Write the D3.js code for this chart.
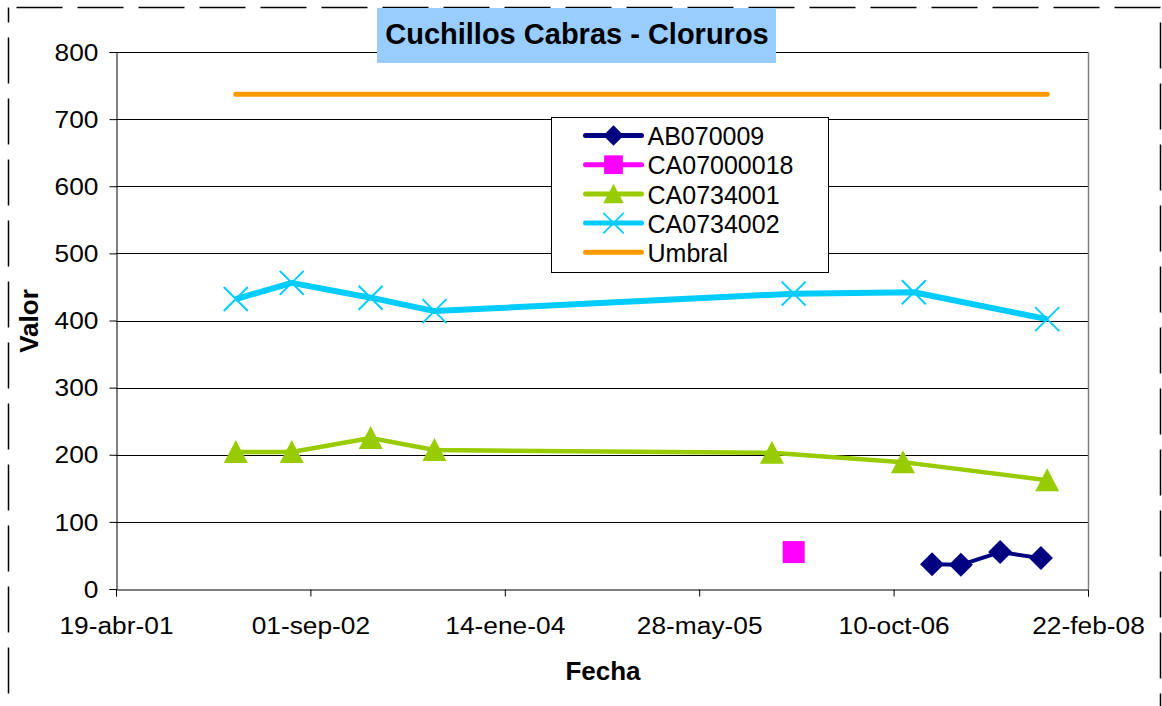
<!DOCTYPE html>
<html>
<head>
<meta charset="utf-8">
<script src="https://cdn.jsdelivr.net/npm/d3@7"></script>
<style>
  body { margin: 0; background: #fff; }
  text { font-family: "Liberation Sans", Arial, sans-serif; }
</style>
</head>
<body>
<div id="chart"></div>
<script>
// series data (dates)
const ab070009Dates = ["2007-01-17", "2007-04-01", "2007-07-11", "2007-10-24"];
const ab070009Values = [37, 36, 55, 46];

const ca07000018Dates = ["2006-01-26"];
const ca07000018Values = [55];

const ca0734001Dates = ["2002-02-21", "2002-07-15", "2003-02-03", "2003-07-17", "2005-12-01", "2006-11-03", "2007-11-09"];
const ca0734001Values = [204, 204, 225, 207, 203, 189, 162];

const ca0734002Dates = ["2002-02-21", "2002-07-15", "2003-02-03", "2003-07-17", "2006-01-26", "2006-12-01", "2007-11-09"];
const ca0734002Values = [432, 456, 434, 414, 440, 442, 402];

const umbralDates = ["2002-02-21", "2007-11-09"];
const umbralValues = [737, 737];

const yTicks = [0, 100, 200, 300, 400, 500, 600, 700, 800];
const xTickLabels = ["19-abr-01", "01-sep-02", "14-ene-04", "28-may-05", "10-oct-06", "22-feb-08"];

const parse = d3.utcParse("%Y-%m-%d");
const xStart = parse("2001-04-19");
const xEnd = parse("2008-02-22");
const xTicks = d3.range(6).map(i => d3.utcDay.offset(xStart, i * 500));

const W = 1162, H = 706;
const plot = { left: 116, right: 1088, top: 52, bottom: 589 };
const stretch = 1.12; // tick labels in the original are a bit wide

const svg = d3.select("#chart").append("svg")
    .attr("width", W)
    .attr("height", H);

// dashed outer frame
svg.append("rect")
    .attr("x", 8.5).attr("y", 7.5)
    .attr("width", 1152).attr("height", 720)
    .attr("fill", "none")
    .attr("stroke", "#000")
    .attr("stroke-width", 1.5)
    .attr("stroke-dasharray", "46,15")
    .attr("stroke-dashoffset", -8);

const x = d3.scaleUtc().domain([xStart, xEnd]).range([plot.left, plot.right]);
const y = d3.scaleLinear().domain([0, 800]).range([plot.bottom, plot.top]);

// gridlines
svg.append("g")
    .selectAll("line")
    .data(yTicks.filter(d => d > 0))
    .join("line")
    .attr("x1", plot.left).attr("x2", plot.right)
    .attr("y1", d => Math.round(y(d)) + 0.5)
    .attr("y2", d => Math.round(y(d)) + 0.5)
    .attr("stroke", "#000")
    .attr("stroke-width", 1);

// right border of plot area
svg.append("line")
    .attr("x1", plot.right + 0.5).attr("x2", plot.right + 0.5)
    .attr("y1", plot.top).attr("y2", plot.bottom)
    .attr("stroke", "#808080")
    .attr("stroke-width", 1.5);

// axes
const yAxis = svg.append("g")
    .attr("transform", `translate(${plot.left + 0.5},0)`)
    .call(d3.axisLeft(y).tickValues(yTicks).tickSize(7).tickPadding(10).tickFormat(d3.format("d")));
yAxis.selectAll("text")
    .attr("font-size", 23.5).attr("fill", "#000").attr("dy", "0.35em")
    .attr("x", -18 / stretch)
    .attr("transform", `scale(${stretch},1)`);

const xAxis = svg.append("g")
    .attr("transform", `translate(0,${plot.bottom + 0.5})`)
    .call(d3.axisBottom(x).tickValues(xTicks).tickSize(7).tickPadding(21)
        .tickFormat((d, i) => xTickLabels[i]));
xAxis.selectAll("text")
    .attr("font-size", 23.5).attr("fill", "#000")
    .attr("transform", `scale(${stretch},1)`);

[yAxis, xAxis].forEach(a => {
    a.attr("font-family", null);
    a.select(".domain").attr("stroke", "#000");
    a.selectAll(".tick line").attr("stroke", "#000");
});

// axis titles
svg.append("text")
    .attr("x", 603).attr("y", 680)
    .attr("text-anchor", "middle")
    .attr("font-size", 26).attr("font-weight", "bold")
    .text("Fecha");

svg.append("text")
    .attr("transform", "translate(38,321) rotate(-90)")
    .attr("text-anchor", "middle")
    .attr("font-size", 26).attr("font-weight", "bold")
    .text("Valor");

// title
svg.append("rect")
    .attr("x", 377).attr("y", 8)
    .attr("width", 399).attr("height", 55)
    .attr("fill", "#99ccff");
svg.append("text")
    .attr("x", 577).attr("y", 44)
    .attr("text-anchor", "middle")
    .attr("font-size", 29).attr("font-weight", "bold")
    .text("Cuchillos Cabras - Cloruros");

// marker shapes
function drawMarker(g, type, color) {
    if (type === "diamond") {
        g.append("path").attr("d", "M0,-12L12,0L0,12L-12,0Z").attr("fill", color);
    } else if (type === "square") {
        g.append("rect").attr("x", -11).attr("y", -11).attr("width", 22).attr("height", 22).attr("fill", color);
    } else if (type === "triangle") {
        g.append("path").attr("d", "M0,-12L12,11L-12,11Z").attr("fill", color);
    } else if (type === "x") {
        g.append("path").attr("d", "M-12,-12L12,12M-12,12L12,-12")
            .attr("stroke", color).attr("stroke-width", 2).attr("fill", "none");
    }
}

const series = [
    { name: "AB070009", dates: ab070009Dates, values: ab070009Values, color: "#000080", marker: "diamond", width: 4 },
    { name: "CA07000018", dates: ca07000018Dates, values: ca07000018Values, color: "#ff00ff", marker: "square", width: 4 },
    { name: "CA0734001", dates: ca0734001Dates, values: ca0734001Values, color: "#99cc00", marker: "triangle", width: 4.5 },
    { name: "CA0734002", dates: ca0734002Dates, values: ca0734002Values, color: "#00ccff", marker: "x", width: 6 },
    { name: "Umbral", dates: umbralDates, values: umbralValues, color: "#ff9900", marker: null, width: 5 }
];

const line = d3.line().x(d => x(d.date)).y(d => y(d.value));

series.forEach(s => {
    s.points = s.dates.map((d, i) => ({ date: parse(d), value: s.values[i] }));
});

// draw in reverse so the first series sits on top (Excel order)
[...series].reverse().forEach(s => {
    svg.append("path")
        .datum(s.points)
        .attr("d", line)
        .attr("fill", "none")
        .attr("stroke", s.color)
        .attr("stroke-width", s.width)
        .attr("stroke-linejoin", "round")
        .attr("stroke-linecap", s.marker ? "butt" : "round");
    if (s.marker) {
        s.points.forEach(p => {
            const g = svg.append("g").attr("transform", `translate(${x(p.date)},${y(p.value)})`);
            drawMarker(g, s.marker, s.color);
        });
    }
});

// legend
const legend = svg.append("g").attr("transform", "translate(551.5,117.5)");
legend.append("rect")
    .attr("width", 277).attr("height", 155)
    .attr("fill", "#fff").attr("stroke", "#000").attr("stroke-width", 1);

series.forEach((s, i) => {
    const ly = 18 + i * 29.2;
    const g = legend.append("g").attr("transform", `translate(0,${ly})`);
    g.append("line")
        .attr("x1", 34).attr("x2", 90)
        .attr("stroke", s.color).attr("stroke-width", 5)
        .attr("stroke-linecap", "round");
    if (s.marker) {
        const m = g.append("g").attr("transform", "translate(62,0) scale(0.85)");
        drawMarker(m, s.marker, s.color);
    }
    g.append("text")
        .attr("x", 96).attr("y", 1).attr("dy", "0.35em")
        .attr("font-size", 25)
        .text(s.name);
});
</script>
</body>
</html>
